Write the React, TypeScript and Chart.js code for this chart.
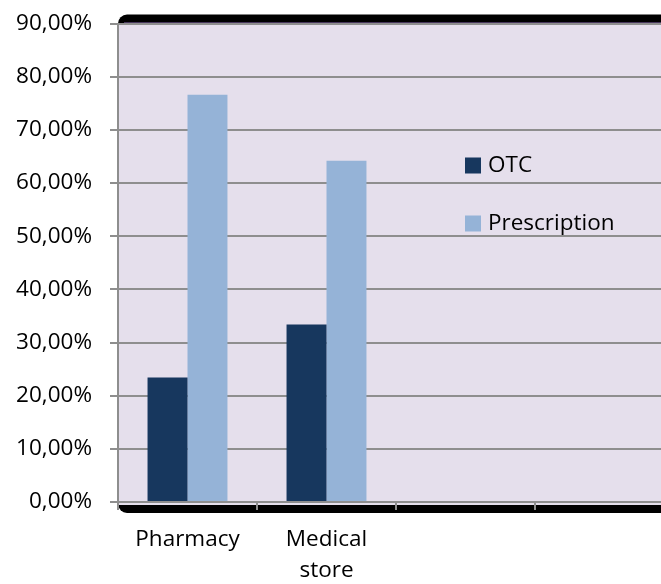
import React, { useEffect, useRef } from "react";
import { Chart, registerables } from "chart.js";

Chart.register(...registerables);

const categories: (string | string[])[] = ["Pharmacy", ["Medical", "store"], "", ""];
const otcValues = [23.4, 33.4, null, null];
const prescriptionValues = [76.6, 64.2, null, null];
const seriesNames = ["OTC", "Prescription"];
const seriesColors = ["#17375E", "#95B3D7"];
const yMin = 0;
const yMax = 90;
const yStep = 10;

const FONT = '"Open Sans", "Liberation Sans", sans-serif';
const FONT_SIZE = 22.5;
const PLOT_BG = "#E5DFEC";
const GRID = "#8E8E8E";

const framePlugin = {
  id: "frame",
  beforeDraw(chart: any) {
    const { ctx, chartArea } = chart;
    const { left, top, right, bottom } = chartArea;
    ctx.save();
    ctx.fillStyle = "#000";
    ctx.beginPath();
    ctx.roundRect(left, top - 9, right + 12 - left, bottom + 11 - (top - 9), 9);
    ctx.fill();
    ctx.fillStyle = PLOT_BG;
    ctx.fillRect(left, top, right - left, bottom + 3 - top);
    ctx.strokeStyle = "#604A7B";
    ctx.lineWidth = 1.5;
    ctx.beginPath();
    ctx.moveTo(left + 6, top - 0.5);
    ctx.lineTo(right + 12, top - 0.5);
    ctx.stroke();
    ctx.restore();
  },
  afterDraw(chart: any) {
    const { ctx, chartArea } = chart;
    const x0 = chartArea.left + 347;
    const ys = [chartArea.top + 142, chartArea.top + 200];
    ctx.save();
    ctx.font = `${FONT_SIZE}px ${FONT}`;
    ctx.textBaseline = "middle";
    ctx.textAlign = "left";
    seriesNames.forEach((name, i) => {
      ctx.fillStyle = seriesColors[i];
      ctx.fillRect(x0, ys[i] - 8, 16, 16);
      ctx.fillStyle = "#000";
      ctx.fillText(name, x0 + 23, ys[i]);
    });
    ctx.restore();
  },
};

export default function App() {
  const ref = useRef<HTMLCanvasElement>(null);
  useEffect(() => {
    if (!ref.current) return;
    const chart = new Chart(ref.current, {
      type: "bar",
      data: {
        labels: categories,
        datasets: [
          {
            label: seriesNames[0],
            data: otcValues,
            backgroundColor: seriesColors[0],
            categoryPercentage: 0.575,
            barPercentage: 1.0,
          },
          {
            label: seriesNames[1],
            data: prescriptionValues,
            backgroundColor: seriesColors[1],
            categoryPercentage: 0.575,
            barPercentage: 1.0,
          },
        ],
      },
      options: {
        responsive: false,
        animation: false,
        layout: { padding: { left: 0, right: 26, top: 15, bottom: 0 } },
        plugins: {
          legend: { display: false },
          tooltip: { enabled: false },
        },
        scales: {
          x: {
            grid: {
              display: true,
              drawOnChartArea: false,
              offset: true,
              tickLength: 8,
              color: GRID,
              lineWidth: 2,
            },
            border: { display: true, color: GRID, width: 2 },
            ticks: {
              font: { family: FONT, size: FONT_SIZE, lineHeight: 1.38 },
              color: "#000",
              padding: 14,
              maxRotation: 0,
              autoSkip: false,
            },
            afterFit: (s: any) => {
              s.height = 82;
            },
          },
          y: {
            min: yMin,
            max: yMax,
            ticks: {
              stepSize: yStep,
              font: { family: FONT, size: FONT_SIZE },
              color: "#000",
              padding: 18,
              callback: (v: any) => Number(v).toFixed(2).replace(".", ",") + "%",
            },
            grid: { color: GRID, lineWidth: 2, tickLength: 8 },
            border: { display: true, color: GRID, width: 2 },
            afterFit: (s: any) => {
              s.width = 118;
            },
          },
        },
      },
      plugins: [framePlugin],
    });
    return () => chart.destroy();
  }, []);
  return (
    <div
      style={{
        position: "absolute",
        left: 0,
        top: 0,
        width: 661,
        height: 584,
        overflow: "hidden",
        background: "#fff",
      }}
    >
      <canvas
        ref={ref}
        width={700}
        height={592}
        style={{ display: "block", marginTop: -8 }}
      />
    </div>
  );
}
